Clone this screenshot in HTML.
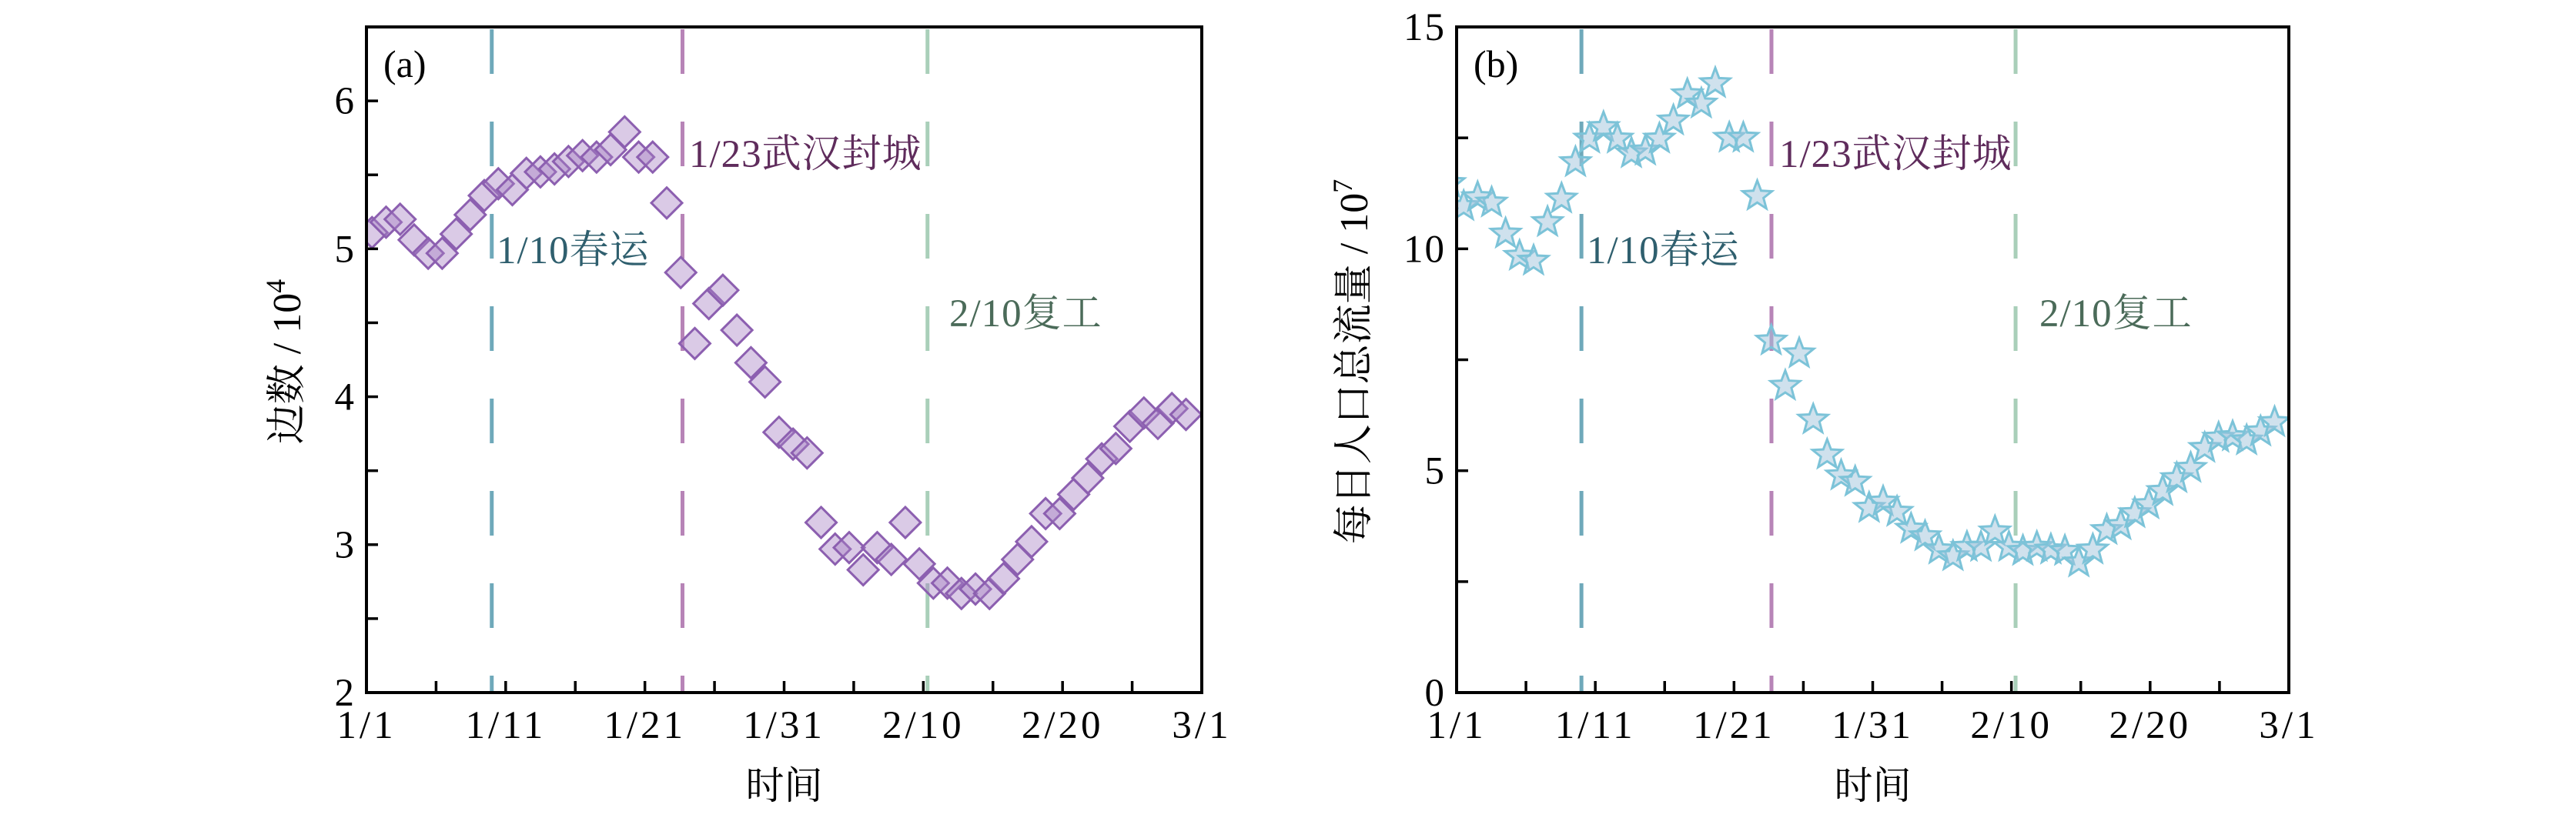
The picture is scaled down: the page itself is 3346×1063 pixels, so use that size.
<!DOCTYPE html>
<html><head><meta charset="utf-8"><style>
html,body{margin:0;padding:0;background:#fff;}
svg{display:block;}
text{font-family:"Liberation Serif","Noto Serif CJK SC",serif;}
</style></head><body>
<svg id="chart" width="3346" height="1063" viewBox="0 0 3346 1063" xmlns="http://www.w3.org/2000/svg"></svg>
<script>
// x categories: day index from 1/1 (0) to 3/1 (60)
const xTickDays = [0, 10, 20, 30, 40, 50, 60];
const xTickLabels = ["1/1", "1/11", "1/21", "1/31", "2/10", "2/20", "3/1"];
const eventDays = [9, 22.7, 40.3];
const eventLabels = ["1/10春运", "1/23武汉封城", "2/10复工"];
// panel a: edges (x10^4)
const edgesValues = [5.11,5.18,5.20,5.06,4.97,4.97,5.10,5.23,5.36,5.44,5.40,5.51,5.52,5.54,5.59,5.63,5.62,5.67,5.79,5.62,5.62,5.31,4.84,4.36,4.63,4.72,4.45,4.23,4.10,3.76,3.68,3.62,3.15,2.97,2.98,2.83,2.98,2.90,3.15,2.87,2.74,2.74,2.67,2.70,2.67,2.77,2.90,3.02,3.21,3.21,3.34,3.45,3.58,3.65,3.80,3.89,3.82,3.92,3.88];
const aYTicks = [2, 3, 4, 5, 6];
// panel b: daily total flow (x10^7)
const flowValues = [11.48,10.96,11.16,11.04,10.34,9.84,9.73,10.60,11.13,11.95,12.48,12.74,12.48,12.15,12.21,12.48,12.89,13.48,13.27,13.73,12.50,12.50,11.19,7.93,6.91,7.64,6.15,5.36,4.89,4.75,4.16,4.30,4.07,3.69,3.52,3.22,3.07,3.28,3.28,3.63,3.28,3.19,3.28,3.22,3.19,2.93,3.22,3.66,3.77,4.04,4.24,4.54,4.83,5.06,5.51,5.74,5.77,5.68,5.88,6.09];
const bYTicks = [0, 5, 10, 15];

const NS = "http://www.w3.org/2000/svg";
const svg = document.getElementById("chart");
function mk(tag, attrs, parent){const e=document.createElementNS(NS,tag);for(const k in attrs)e.setAttribute(k,attrs[k]);(parent||svg).appendChild(e);return e;}

function panel(cfg){
  const g = mk("g",{});
  
  
  const L=cfg.L,R=cfg.R,T=35,B=900;
  const xs = d => L + (d/60)*(R-L);
  const ys = v => B - (v-cfg.ymin)/(cfg.ymax-cfg.ymin)*(B-T);
  const clipId = "clip-"+cfg.name;
  const cp = mk("clipPath",{id:clipId},g);
  mk("rect",{x:L,y:T,width:R-L,height:B-T},cp);
  const colors=["#6fa9ba","#b784b7","#a9cfb9"];
  const tcolors=["#2f5f6e","#5f2c5c","#4b6b59"];
  const tpos=[[cfg.ev1x,342],[cfg.ev2x,217],[cfg.ev3x,424]];
  eventDays.forEach((d,i)=>{
    const ln=mk("line",{x1:xs(d),x2:xs(d),y1:T+3,y2:B,stroke:colors[i],"stroke-width":5,"stroke-dasharray":"58 62"},g);
    
    
  });
  const mg = mk("g",{"clip-path":"url(#"+clipId+")"},g);
  cfg.values.forEach((v,i)=>{
    const cx = xs(cfg.x0 + i*1.008), cy = ys(v);
    let m;
    if(cfg.marker==="diamond"){
      const r=20;
      m=mk("polygon",{points:`${cx},${cy-r} ${cx+r},${cy} ${cx},${cy+r} ${cx-r},${cy}`,fill:"rgba(168,128,196,0.42)",stroke:"#8c5fb0","stroke-width":3},mg);
    } else {
      const ro=20, ri=8.5; let p=[];
      for(let k=0;k<10;k++){const a=-Math.PI/2+k*Math.PI/5;const r=k%2?ri:ro;p.push((cx+r*Math.cos(a)).toFixed(1)+","+(cy+r*Math.sin(a)).toFixed(1));}
      m=mk("polygon",{points:p.join(" "),fill:"rgba(160,196,220,0.5)",stroke:"#7cc3d8","stroke-width":3,"stroke-linejoin":"miter"},mg);
    }
    
    
  });
  eventLabels.forEach((t,i)=>{
    const tx=mk("text",{x:tpos[i][0],y:tpos[i][1],"font-size":51,"letter-spacing":1,fill:tcolors[i]},g);
    tx.textContent=t;
    
    
  });
  const fr=mk("rect",{x:L,y:T,width:R-L,height:B-T,fill:"none",stroke:"#000","stroke-width":4},g);
  
  
  for(let d=0; d<=60; d+=5){
    mk("line",{x1:xs(d),x2:xs(d),y1:B,y2:B-15,stroke:"#000","stroke-width":3.5},g);
  }
  xTickDays.forEach((d,i)=>{
    const t=mk("text",{x:xs(d),y:959,"font-size":51,"letter-spacing":4,"text-anchor":"middle"},g);
    t.textContent=xTickLabels[i];
    
    
  });
  for(let v=cfg.ymin; v<=cfg.ymax+1e-9; v+=cfg.minor){
    mk("line",{x1:L,x2:L+15,y1:ys(v),y2:ys(v),stroke:"#000","stroke-width":3.5},g);
  }
  cfg.yticks.forEach(v=>{
    const t=mk("text",{x:L-14,y:ys(v)+17,"font-size":51,"letter-spacing":2,"text-anchor":"end"},g);
    t.textContent=String(v);
    
    
  });
  const xl=mk("text",{x:(L+R)/2,y:1038,"font-size":50,"text-anchor":"middle"},g);
  xl.textContent="时间";
  
  
  const yl=mk("text",{x:0,y:0,"font-size":52,"text-anchor":"middle",transform:`translate(${cfg.ylx},470) rotate(-90)`},g);
  yl.innerHTML=cfg.ylabel+" / 10<tspan dy='-20' font-size='36'>"+cfg.exp+"</tspan>";
  
  
  const pl=mk("text",{x:L+22,y:100,"font-size":50},g);
  pl.textContent=cfg.tag;
  
  
}
panel({name:"panel-a",L:476,R:1561,ymin:2,ymax:6.5,minor:0.5,yticks:aYTicks,values:edgesValues,x0:0.4,marker:"diamond",ylabel:"边数",exp:"4",ylx:390,tag:"(a)",ev1x:645,ev2x:895,ev3x:1233});
panel({name:"panel-b",L:1892,R:2973,ymin:0,ymax:15,minor:2.5,yticks:bYTicks,values:flowValues,x0:-0.5,marker:"star",ylabel:"每日人口总流量",exp:"7",ylx:1776,tag:"(b)",ev1x:2061,ev2x:2311,ev3x:2649});
</script>
</body></html>
